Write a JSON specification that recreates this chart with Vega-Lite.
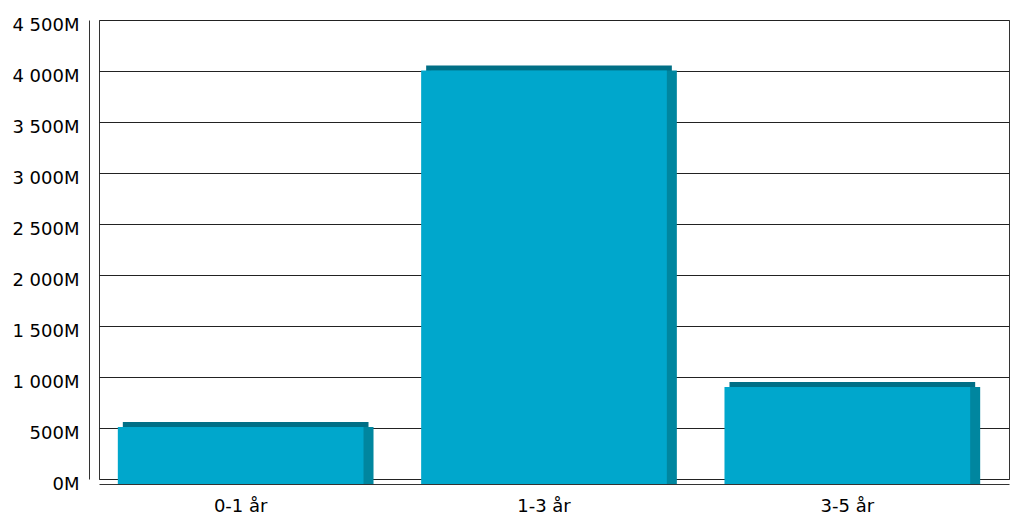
{
  "$schema": "https://vega.github.io/schema/vega-lite/v6.json",
  "width": 910,
  "height": 459,
  "autosize": {"type": "none"},
  "padding": {"left": 99, "top": 20, "right": 15, "bottom": 40},
  "background": "#ffffff",
  "config": {
    "view": {"stroke": "#333333", "strokeWidth": 1},
    "font": "DejaVu Sans"
  },
  "data": {
    "values": [
      {"period": "0-1 år", "amount": 560},
      {"period": "1-3 år", "amount": 4055},
      {"period": "3-5 år", "amount": 950}
    ]
  },
  "encoding": {
    "x": {
      "field": "period",
      "type": "nominal",
      "sort": null,
      "scale": {"paddingInner": 0.19, "paddingOuter": 0.095},
      "axis": {
        "title": null,
        "labelAngle": 0,
        "labelFontSize": 18,
        "labelColor": "#000000",
        "labelOffset": -10,
        "labelPadding": 13,
        "offset": 5,
        "ticks": false,
        "domainColor": "#333333",
        "grid": false
      }
    },
    "y": {
      "field": "amount",
      "type": "quantitative",
      "scale": {"domain": [0, 4500], "nice": false},
      "axis": {
        "title": null,
        "values": [0, 500, 1000, 1500, 2000, 2500, 3000, 3500, 4000, 4500],
        "labelExpr": "replace(format(datum.value, ','), ',', ' ') + 'M'",
        "labelFontSize": 18,
        "labelColor": "#000000",
        "labelOffset": 5,
        "labelPadding": 10,
        "offset": 10,
        "ticks": false,
        "domainColor": "#333333",
        "grid": true,
        "gridColor": "#222222",
        "gridOpacity": 1
      }
    }
  },
  "layer": [
    {
      "mark": {"type": "bar", "color": "#006F86", "xOffset": -5, "yOffset": 0}
    },
    {
      "mark": {"type": "bar", "color": "#00869F", "xOffset": 0, "yOffset": 5}
    },
    {
      "mark": {"type": "bar", "color": "#00A7CC", "xOffset": -10, "yOffset": 5}
    }
  ]
}
